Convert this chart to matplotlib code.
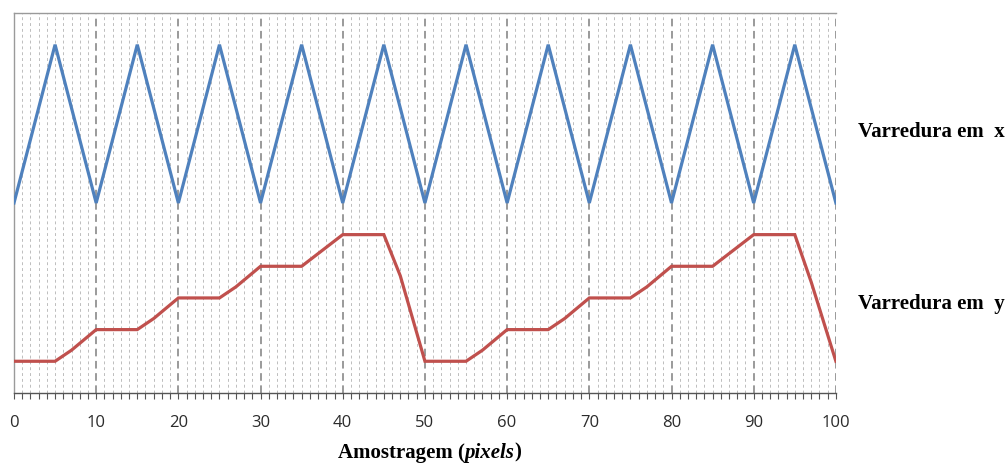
import matplotlib.pyplot as plt
from matplotlib.ticker import MultipleLocator

# Varredura em x: dente de serra (triangular) com periodo de 10 amostras
x_scan_x = [0, 5, 10, 15, 20, 25, 30, 35, 40, 45, 50, 55, 60, 65, 70, 75, 80, 85, 90, 95, 100]
y_scan_x = [5, 10, 5, 10, 5, 10, 5, 10, 5, 10, 5, 10, 5, 10, 5, 10, 5, 10, 5, 10, 5]

# Varredura em y: escada que sobe a cada linha e volta ao inicio
x_scan_y = [0, 5, 7, 10, 15, 17, 20, 25, 27, 30, 35, 38, 40, 45, 47, 50,
            55, 57, 60, 65, 67, 70, 75, 77, 80, 85, 88, 90, 95, 97, 100]
y_scan_y = [0, 0, 0.35, 1, 1, 1.35, 2, 2, 2.35, 3, 3, 3.6, 4, 4, 2.7, 0,
            0, 0.35, 1, 1, 1.35, 2, 2, 2.35, 3, 3, 3.6, 4, 4, 2.5, 0]

tick_labels = ['0', '10', '20', '30', '40', '50', '60', '70', '80', '90', '100']

blue = '#4F81BD'
red = '#C0504D'

fig = plt.figure(figsize=(10.06, 4.65), dpi=100)
ax = fig.add_axes([0.0139, 0.155, 0.817, 0.817])

ax.plot(x_scan_x, y_scan_x, color=blue, linewidth=2.3, solid_joinstyle='miter', zorder=3)
ax.plot(x_scan_y, y_scan_y, color=red, linewidth=2.3, solid_joinstyle='miter', zorder=3)

ax.set_xlim(0, 100)
ax.set_ylim(-1, 11)
ax.set_yticks([])

ax.xaxis.set_major_locator(MultipleLocator(10))
ax.xaxis.set_minor_locator(MultipleLocator(1))
ax.set_xticks(range(0, 101, 10))
ax.set_xticklabels(tick_labels, fontsize=12, family='Open Sans', color='#2b2b2b')
ax.tick_params(axis='x', which='both', direction='out', length=4, width=0.8,
               color='#555555', pad=12)

ax.grid(which='minor', axis='x', color='#bdbdbd', linestyle=(0, (3, 3)), linewidth=0.7)
ax.grid(which='major', axis='x', color='#7f7f7f', linestyle=(0, (5, 3)), linewidth=1.1)
ax.set_axisbelow(True)

for side in ['left', 'top']:
    ax.spines[side].set_color('#9a9a9a')
    ax.spines[side].set_linewidth(1.0)
ax.spines['bottom'].set_color('#555555')
ax.spines['bottom'].set_linewidth(1.0)
ax.spines['right'].set_visible(False)

serif = 'Liberation Serif'
fs = 15
# rotulo do eixo x com "pixels" em italico, montado em tres pedacos
t1 = fig.text(0.336, 0.016, 'Amostragem (', family=serif, fontweight='bold', fontsize=fs)
t2 = ax.annotate('pixels', xy=(1, 0), xycoords=t1, va='bottom', ha='left',
                 family=serif, fontweight='bold', fontstyle='italic', fontsize=fs)
ax.annotate(')', xy=(1, 0), xycoords=t2, va='bottom', ha='left',
            family=serif, fontweight='bold', fontsize=fs)

fig.text(0.853, 0.716, 'Varredura em  x', family=serif, fontweight='bold', fontsize=fs, va='center')
fig.text(0.853, 0.346, 'Varredura em  y', family=serif, fontweight='bold', fontsize=fs, va='center')

fig.savefig('out.png', dpi=100)
